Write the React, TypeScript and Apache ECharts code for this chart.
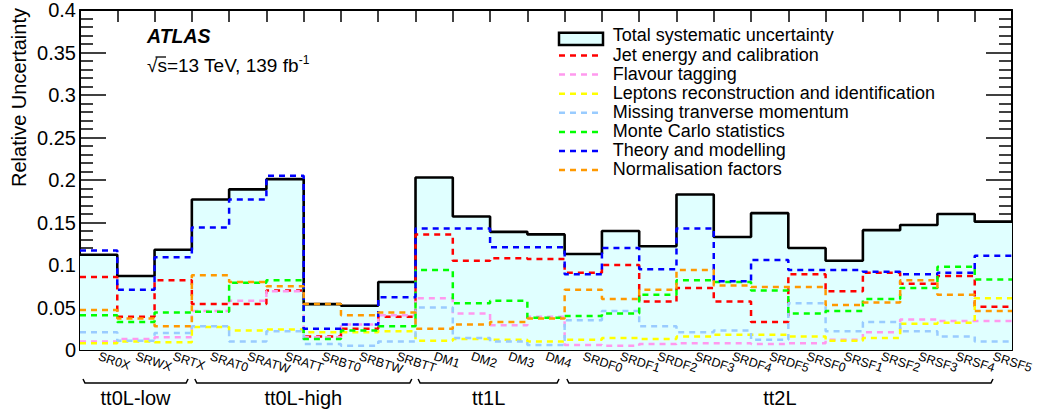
import React, { useEffect, useRef } from "react";
import * as echarts from "echarts";

const categories = ["SR0X","SRWX","SRTX","SRAT0","SRATW","SRATT","SRBT0","SRBTW","SRBTT","DM1","DM2","DM3","DM4","SRDF0","SRDF1","SRDF2","SRDF3","SRDF4","SRDF5","SRSF0","SRSF1","SRSF2","SRSF3","SRSF4","SRSF5"];

const totalSyst = [0.112,0.087,0.118,0.177,0.189,0.201,0.054,0.052,0.080,0.203,0.157,0.139,0.136,0.113,0.140,0.122,0.183,0.133,0.161,0.120,0.105,0.141,0.147,0.160,0.151];
const jetEnergy = [0.086,0.039,0.082,0.054,0.054,0.070,0.016,0.025,0.039,0.136,0.105,0.108,0.107,0.091,0.100,0.057,0.073,0.057,0.033,0.089,0.069,0.091,0.078,0.087,0.051];
const flavourTag = [0.010,0.013,0.015,0.046,0.058,0.069,0.015,0.030,0.041,0.061,0.043,0.029,0.039,0.006,0.005,0.007,0.008,0.008,0.007,0.008,0.012,0.021,0.036,0.034,0.034];
const leptons = [0.008,0.010,0.009,0.027,0.023,0.024,0.021,0.021,0.022,0.011,0.013,0.012,0.010,0.012,0.014,0.013,0.016,0.018,0.018,0.016,0.011,0.014,0.031,0.032,0.061];
const missingEt = [0.021,0.011,0.020,0.028,0.010,0.022,0.007,0.005,0.010,0.050,0.014,0.010,0.006,0.035,0.046,0.028,0.021,0.023,0.012,0.055,0.022,0.033,0.022,0.016,0.010];
const mcStat = [0.041,0.033,0.044,0.045,0.079,0.082,0.013,0.023,0.028,0.094,0.055,0.058,0.038,0.040,0.043,0.065,0.082,0.080,0.070,0.043,0.046,0.060,0.073,0.098,0.083];
const theory = [0.117,0.071,0.109,0.144,0.177,0.205,0.025,0.030,0.062,0.143,0.143,0.121,0.121,0.089,0.120,0.095,0.143,0.081,0.106,0.094,0.094,0.092,0.089,0.091,0.111];
const normFactors = [0.047,0.037,0.028,0.088,0.080,0.075,0.054,0.041,0.044,0.025,0.030,0.033,0.037,0.071,0.060,0.071,0.094,0.076,0.074,0.074,0.053,0.056,0.082,0.065,0.046];

const groupNames = ["tt0L-low", "tt0L-high", "tt1L", "tt2L"];
const groupFrom = [0.08, 3.08, 9.07, 13.06];
const groupTo = [2.9, 8.9, 12.85, 24.49];

const FONT = "'Liberation Sans', Arial, Helvetica, sans-serif";
const FILL = "#e0ffff";

const components = [
  { name: "Jet energy and calibration", values: jetEnergy, color: "#ff0000" },
  { name: "Flavour tagging", values: flavourTag, color: "#ff99ee" },
  { name: "Leptons reconstruction and identification", values: leptons, color: "#ffff00" },
  { name: "Missing tranverse momentum", values: missingEt, color: "#99ccff" },
  { name: "Monte Carlo statistics", values: mcStat, color: "#00ff00" },
  { name: "Theory and modelling", values: theory, color: "#0000ff" },
  { name: "Normalisation factors", values: normFactors, color: "#ff9900" },
];

function stepPoints(vals: number[]) {
  const pts: number[][] = [];
  vals.forEach((v, i) => {
    pts.push([i, v]);
    pts.push([i + 1, v]);
  });
  return pts;
}

export default function App() {
  const ref = useRef<HTMLDivElement>(null);
  useEffect(() => {
    if (!ref.current) return;
    const chart = echarts.init(ref.current, undefined, { renderer: "svg" });
    const catAxisCommon = {
      type: "category",
      data: categories,
      boundaryGap: true,
      gridIndex: 0,
      axisLine: { show: true, lineStyle: { color: "#000", width: 2 } },
      splitLine: { show: false },
    };
    const yCommon = {
      type: "value",
      min: 0,
      max: 0.4,
      interval: 0.05,
      splitLine: { show: false },
      axisLine: { show: true, lineStyle: { color: "#000", width: 2 } },
      axisTick: { show: true, inside: true, length: 26, lineStyle: { color: "#000", width: 1.5 } },
      minorTick: { show: true, splitNumber: 5, length: 13, lineStyle: { color: "#000", width: 1.5 } },
    };
    const series: any[] = [
      {
        name: "Total systematic uncertainty",
        type: "line",
        xAxisIndex: 0,
        yAxisIndex: 0,
        data: stepPoints(totalSyst),
        symbol: "none",
        lineStyle: { color: "#000", width: 2.6 },
        areaStyle: { color: FILL, opacity: 1 },
        z: 2,
      },
      ...components.map((c) => ({
        name: c.name,
        type: "line",
        xAxisIndex: 0,
        yAxisIndex: 0,
        data: stepPoints(c.values),
        symbol: "none",
        lineStyle: { color: c.color, width: 2.5, type: [6, 5] },
        z: 3,
      })),
    ];
    chart.setOption({
      animation: false,
      grid: { left: 80, right: 27, top: 7, bottom: 64 },
      xAxis: [
        { type: "value", min: 0, max: 25, show: false, gridIndex: 0 },
        {
          ...catAxisCommon,
          position: "bottom",
          axisTick: { show: true, inside: true, length: 10, interval: 0, lineStyle: { color: "#000", width: 1.5 } },
          axisLabel: { show: true, interval: 0, rotate: -18, margin: 6, fontSize: 12.5, color: "#000", fontFamily: FONT },
        },
        {
          ...catAxisCommon,
          position: "top",
          axisTick: { show: true, inside: true, length: 12, interval: 0, lineStyle: { color: "#000", width: 1.5 } },
          axisLabel: { show: false },
        },
      ],
      yAxis: [
        {
          ...yCommon,
          position: "left",
          axisLabel: {
            show: true,
            margin: 4,
            fontSize: 20,
            color: "#000",
            fontFamily: FONT,
            formatter: (v: number) => String(+v.toFixed(2)),
          },
        },
        { ...yCommon, position: "right", axisLabel: { show: false } },
      ],
      series,
    });

    const g: any[] = [];
    g.push({
      type: "text",
      x: 18.5,
      y: 8,
      rotation: Math.PI / 2,
      style: { text: "Relative Uncertainty", font: `20px ${FONT}`, fill: "#000", align: "right", verticalAlign: "middle" },
    });
    g.push({
      type: "text",
      x: 147,
      y: 35.5,
      style: { text: "ATLAS", font: `italic bold 19.5px ${FONT}`, fill: "#000", align: "left", verticalAlign: "middle" },
    });
    g.push({
      type: "text",
      x: 147,
      y: 65,
      style: {
        text: "{a|√s=13 TeV, 139 fb}{s|-1}",
        font: `19px ${FONT}`,
        fill: "#000",
        align: "left",
        verticalAlign: "middle",
        rich: {
          a: { font: `19px ${FONT}`, fill: "#000" },
          s: { font: `12px ${FONT}`, fill: "#000", verticalAlign: "top", padding: [0, 0, 10, 0] },
        },
      },
    });
    // overline of the square root
    g.push({
      type: "line",
      shape: { x1: 155.5, y1: 57, x2: 166, y2: 57 },
      style: { stroke: "#000", lineWidth: 1.3 },
    });
    // legend
    const rowY = (k: number) => 35.4 + 19.1 * k;
    const legendFont = `18px ${FONT}`;
    g.push({
      type: "rect",
      shape: { x: 559, y: 32.7, width: 44, height: 12.3 },
      style: { fill: FILL, stroke: "#000", lineWidth: 2.5 },
    });
    g.push({
      type: "text",
      x: 612.7,
      y: rowY(0),
      style: { text: "Total systematic uncertainty", font: legendFont, lineHeight: 17, fill: "#000", align: "left", verticalAlign: "middle" },
    });
    components.forEach((c, i) => {
      const y = rowY(i + 1);
      g.push({
        type: "line",
        shape: { x1: 559, y1: y + 1, x2: 603, y2: y + 1 },
        style: { stroke: c.color, lineWidth: 2.5, lineDash: [6, 5] },
      });
      g.push({
        type: "text",
        x: 612.7,
        y,
        style: { text: c.name, font: legendFont, lineHeight: 17, fill: "#000", align: "left", verticalAlign: "middle" },
      });
    });
    // group brackets
    groupNames.forEach((name, i) => {
      const x0 = chart.convertToPixel({ xAxisIndex: 0 }, groupFrom[i]) as number;
      const x1 = chart.convertToPixel({ xAxisIndex: 0 }, groupTo[i]) as number;
      g.push({
        type: "polyline",
        shape: { points: [[x0, 379], [x0 + 2, 383], [x1 - 2, 383], [x1, 379]] },
        style: { stroke: "#000", lineWidth: 1.5, fill: "none" },
      });
      g.push({
        type: "text",
        x: (x0 + x1) / 2,
        y: 398,
        style: { text: name, font: `20px ${FONT}`, fill: "#000", align: "center", verticalAlign: "middle" },
      });
    });
    chart.setOption({ graphic: g });
    return () => chart.dispose();
  }, []);
  return (
    <div
      ref={ref}
      style={{ position: "fixed", left: 0, top: 0, width: 1039, height: 414, background: "#fff" }}
    />
  );
}
